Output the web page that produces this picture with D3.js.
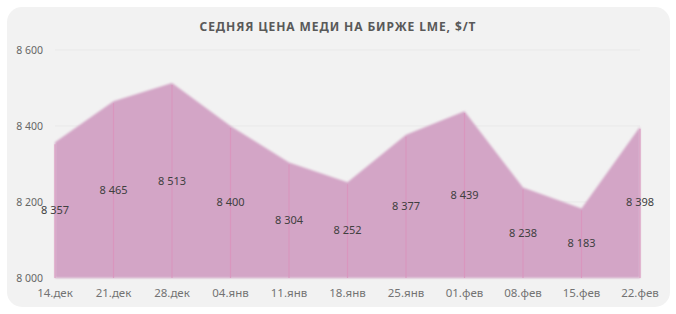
<!DOCTYPE html>
<html>
<head>
<meta charset="utf-8">
<script src="https://cdn.jsdelivr.net/npm/d3@7"></script>
<style>
  body { margin: 0; background: #fff; }
  text { font-family: "Noto Sans", "Open Sans", sans-serif; }
</style>
</head>
<body>
<svg id="chart" width="676" height="314"></svg>
<script>
const categories = ['14.дек', '21.дек', '28.дек', '04.янв', '11.янв', '18.янв', '25.янв', '01.фев', '08.фев', '15.фев', '22.фев'];
const prices = [8357, 8465, 8513, 8400, 8304, 8252, 8377, 8439, 8238, 8183, 8398];
const yTicks = [8000, 8200, 8400, 8600];
const title = 'СЕДНЯЯ ЦЕНА МЕДИ НА БИРЖЕ LME, $/Т';

const svg = d3.select('#chart');

// card background
svg.append('rect')
  .attr('x', 7).attr('y', 7)
  .attr('width', 663).attr('height', 300)
  .attr('rx', 15)
  .style('fill', '#f2f2f2');

const x = d3.scalePoint().domain(categories).range([55, 640]);
const y = d3.scaleLinear().domain([8000, 8600]).range([278, 50]);
const fmt = v => d3.format(',')(v).replace(',', ' ');

// gridlines
svg.append('g')
  .selectAll('line')
  .data(yTicks)
  .enter()
  .append('line')
  .attr('x1', 55).attr('x2', 640)
  .attr('y1', d => y(d)).attr('y2', d => y(d))
  .style('stroke', '#e9e9e9')
  .style('stroke-width', 1);

// y axis labels
svg.append('g')
  .selectAll('text')
  .data(yTicks)
  .enter()
  .append('text')
  .attr('x', 43)
  .attr('y', d => y(d) + 4)
  .attr('text-anchor', 'end')
  .style('font-size', '10.5px')
  .style('fill', '#666')
  .text(fmt);

const defs = svg.append('defs');
defs.append('filter')
  .attr('id', 'soft')
  .attr('x', '-5%').attr('y', '-5%').attr('width', '110%').attr('height', '110%')
  .append('feGaussianBlur')
  .attr('stdDeviation', 0.9);

const area = d3.area()
  .x((d, i) => x(categories[i]))
  .y0(y(8000))
  .y1(d => y(d));

svg.append('path')
  .datum(prices)
  .attr('d', area)
  .attr('filter', 'url(#soft)')
  .style('fill', '#d3a5c6');

// drop lines
svg.append('g')
  .selectAll('line')
  .data(prices)
  .enter()
  .append('line')
  .attr('x1', (d, i) => x(categories[i]))
  .attr('x2', (d, i) => x(categories[i]))
  .attr('y1', d => y(d) + 2)
  .attr('y2', y(8000))
  .style('stroke', '#db93bd')
  .style('stroke-width', 1.2)
  .style('opacity', 0.8);

// data labels, centred in the area
svg.append('g')
  .selectAll('text')
  .data(prices)
  .enter()
  .append('text')
  .attr('x', (d, i) => x(categories[i]))
  .attr('y', d => y((d + 8000) / 2) + 4)
  .attr('text-anchor', 'middle')
  .style('font-size', '11px')
  .style('fill', '#404040')
  .text(fmt);

// category labels
svg.append('g')
  .selectAll('text')
  .data(categories)
  .enter()
  .append('text')
  .attr('x', d => x(d))
  .attr('y', 297)
  .attr('text-anchor', 'middle')
  .style('font-size', '11.5px')
  .style('fill', '#737373')
  .text(d => d);

svg.append('text')
  .attr('x', 338)
  .attr('y', 31)
  .attr('text-anchor', 'middle')
  .style('font-size', '12px')
  .style('font-weight', 'bold')
  .style('letter-spacing', '0.9px')
  .style('fill', '#595959')
  .text(title);
</script>
</body>
</html>
